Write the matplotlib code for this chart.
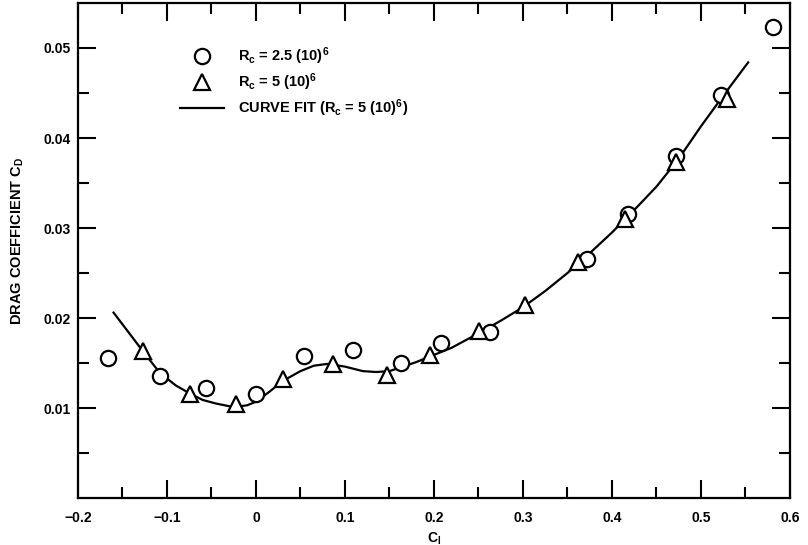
import numpy as np
import matplotlib
matplotlib.use("Agg")
import matplotlib.pyplot as plt
from matplotlib.ticker import MultipleLocator, FixedLocator, FixedFormatter

plt.rcParams['font.family'] = ['Liberation Sans', 'DejaVu Sans']
plt.rcParams['font.weight'] = 'bold'
plt.rcParams['mathtext.fontset'] = 'custom'
plt.rcParams['mathtext.rm'] = 'Liberation Sans:bold'
plt.rcParams['mathtext.it'] = 'Liberation Sans:bold'
plt.rcParams['mathtext.bf'] = 'Liberation Sans:bold'

# Rc = 2.5 (10)^6 data (circles)
cl_25 = [-0.166, -0.108, -0.056, 0.000, 0.054, 0.109, 0.163, 0.208, 0.263, 0.372, 0.418, 0.472, 0.523, 0.581]
cd_25 = [0.0156, 0.0136, 0.0122, 0.0116, 0.0158, 0.0165, 0.0150, 0.0172, 0.0185, 0.0266, 0.0316, 0.0380, 0.0448, 0.0523]

# Rc = 5 (10)^6 data (triangles)
cl_5 = [-0.127, -0.074, -0.023, 0.030, 0.087, 0.147, 0.195, 0.251, 0.302, 0.362, 0.415, 0.472, 0.529]
cd_5 = [0.0163, 0.0116, 0.0105, 0.0132, 0.0149, 0.0137, 0.0159, 0.0186, 0.0214, 0.0262, 0.0310, 0.0373, 0.0443]

# curve fit (Rc = 5 (10)^6)
cl_fit = [-0.160, -0.150, -0.140, -0.127, -0.108, -0.090, -0.074, -0.060, -0.045, -0.025,
          -0.010, 0.000, 0.015, 0.030, 0.050, 0.065, 0.080, 0.100, 0.120, 0.135, 0.150,
          0.165, 0.180, 0.195, 0.220, 0.250, 0.275, 0.300, 0.325, 0.350, 0.375, 0.400,
          0.425, 0.450, 0.475, 0.500, 0.525, 0.553]
cd_fit = [0.0206, 0.0193, 0.0180, 0.0163, 0.0139, 0.0125, 0.0116, 0.0109, 0.0105, 0.0101,
          0.0103, 0.0107, 0.0118, 0.0130, 0.0141, 0.0147, 0.0149, 0.0146, 0.0141, 0.0140, 0.0141,
          0.0146, 0.0151, 0.0157, 0.0167, 0.0183, 0.0197, 0.0212, 0.0230, 0.0250, 0.0272, 0.0295,
          0.0320, 0.0346, 0.0377, 0.0413, 0.0447, 0.0484]

x_ticks = [-0.2, -0.1, 0, 0.1, 0.2, 0.3, 0.4, 0.5, 0.6]
x_labels = ['\u22120.2', '\u22120.1', '0', '0.1', '0.2', '0.3', '0.4', '0.5', '0.6']
y_ticks = [0.01, 0.02, 0.03, 0.04, 0.05]
y_labels = ['0.01', '0.02', '0.03', '0.04', '0.05']

fig = plt.figure(figsize=(8.08, 5.45), dpi=100)
ax = fig.add_axes([0.0965, 0.0862, 0.8812, 0.9083])

ax.plot(cl_fit, cd_fit, '-', color='black', lw=1.6, label='CURVE FIT (R$_c$ = 5 (10)$^6$)')
ax.plot(cl_25, cd_25, 'o', ms=11, mfc='white', mec='black', mew=1.6, ls='none',
        label='R$_c$ = 2.5 (10)$^6$')
ax.plot(cl_5, cd_5, '^', ms=12, mfc='white', mec='black', mew=1.6, ls='none',
        label='R$_c$ = 5 (10)$^6$')

ax.set_xlim(-0.2, 0.6)
ax.set_ylim(0, 0.055)

ax.xaxis.set_major_locator(FixedLocator(x_ticks))
ax.xaxis.set_major_formatter(FixedFormatter(x_labels))
ax.xaxis.set_minor_locator(MultipleLocator(0.05))
ax.yaxis.set_major_locator(FixedLocator(y_ticks))
ax.yaxis.set_major_formatter(FixedFormatter(y_labels))
ax.yaxis.set_minor_locator(FixedLocator([0.005, 0.015, 0.025, 0.035, 0.045]))

ax.tick_params(which='both', direction='in', top=True, right=True, width=1.5, labelsize=10)
ax.tick_params(which='major', length=13)
ax.tick_params(which='minor', length=8)
ax.tick_params(axis='x', which='major', pad=9)
ax.tick_params(axis='y', which='major', pad=5.5)
for s in ax.spines.values():
    s.set_linewidth(1.6)

ax.set_xlabel('C$_l$', fontsize=10, fontweight='bold')
ax.set_ylabel('DRAG COEFFICIENT C$_D$', fontsize=10.5, fontweight='bold')
ax.xaxis.set_label_coords(0.5, -0.065)
ax.yaxis.set_label_coords(-0.073, 0.52)

h, l = ax.get_legend_handles_labels()
order = [1, 2, 0]
ax.legend([h[i] for i in order], [l[i] for i in order], loc='upper left',
          bbox_to_anchor=(0.125, 0.94), frameon=False, fontsize=10.5,
          handlelength=3.0, handletextpad=1.0, labelspacing=0.3)

fig.savefig('out.png', dpi=100)
